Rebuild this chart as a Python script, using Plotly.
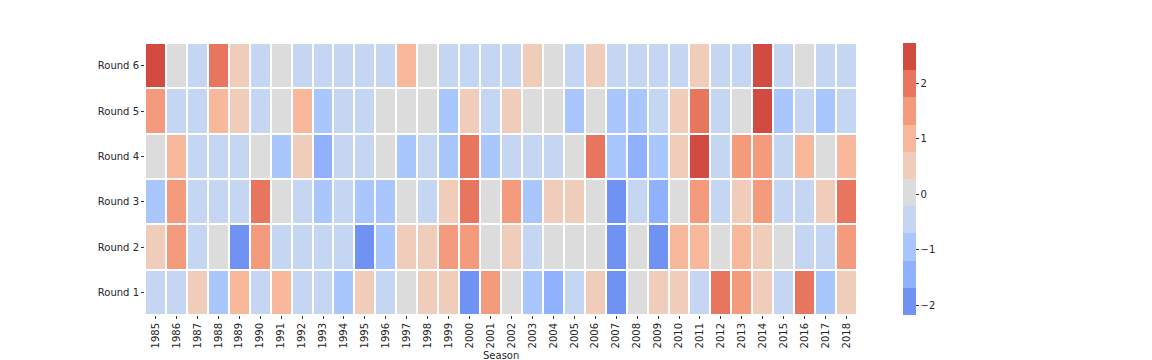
import plotly.graph_objects as go

seasons = [str(y) for y in range(1985, 2019)]
rounds = ["Round 1", "Round 2", "Round 3", "Round 4", "Round 5", "Round 6"]

# estimated values (read from binned colours)
round1 = [-0.46, -0.46, 0.52, -0.95, 1.01, -0.46, 1.01, -0.46, -0.46, -0.95, 0.52, -0.46, 0.03, 0.52, 0.52, -1.93, 1.50,
          0.03, -0.95, -1.44, -0.46, 0.52, -2.18, 0.03, 0.52, 0.52, -0.46, 1.99, 1.50, 0.52, -0.46, 1.99, -0.95, 0.52]
round2 = [0.52, 1.50, -0.46, 0.03, -1.93, 1.50, -0.46, -0.46, -0.46, -0.46, -1.93, -0.95, 0.52, 0.52, 1.50, 1.50, 0.03,
          0.52, -0.46, 0.03, 0.03, 0.03, -1.93, 0.03, -1.93, 1.01, 1.01, 0.03, 1.01, 0.52, 0.03, -0.46, -0.46, 1.50]
round3 = [-0.95, 1.50, -0.46, -0.46, -0.46, 1.99, 0.03, -0.46, -0.95, -0.46, -0.95, -0.95, 0.03, -0.46, 0.52, 1.99, 0.03,
          1.50, -0.95, 0.52, 0.52, 0.03, -1.93, -0.46, -1.44, 0.03, 1.50, -0.46, 0.52, 1.50, -0.46, -0.46, 0.52, 1.99]
round4 = [0.03, 1.01, -0.46, -0.46, -0.46, 0.03, -0.95, 0.52, -1.44, -0.46, -0.46, 0.03, -0.95, -0.46, -0.95, 1.99, -0.95,
          -0.46, -0.46, -0.46, 0.03, 1.99, -0.95, -1.44, -0.95, 0.52, 2.48, -0.46, 1.50, 1.50, -0.46, 1.01, 0.03, 1.01]
round5 = [1.50, -0.46, -0.46, 1.01, 0.52, -0.46, 0.03, 1.01, -0.95, -0.46, -0.46, 0.03, 0.03, 0.03, -0.95, 0.52, -0.46,
          0.52, 0.03, 0.03, -0.95, 0.03, -0.95, -0.95, -0.46, 0.52, 1.99, -0.46, 0.03, 2.48, -0.95, -0.46, -0.95, -0.46]
round6 = [2.48, 0.03, -0.46, 1.99, 0.52, -0.46, 0.03, -0.46, -0.46, -0.46, -0.46, -0.46, 1.01, 0.03, -0.46, -0.46, -0.46,
          -0.46, 0.52, 0.03, -0.46, 0.52, -0.46, -0.46, -0.46, -0.46, 0.52, -0.46, -0.46, 2.73, -0.46, 0.03, -0.46, -0.46]

palette = ["#7093f3", "#8fb1fe", "#aac7fd", "#c5d6f2", "#dddcdc",
           "#f0cdbb", "#f7b89c", "#f39b7c", "#e8765e", "#d24b40"]

zmin, zmax = -2.18, 2.73
n = len(palette)
colorscale = []
for i, c in enumerate(palette):
    colorscale.append([i / n, c])
    colorscale.append([(i + 1) / n, c])

z = [round1, round2, round3, round4, round5, round6]

fig = go.Figure(go.Heatmap(
    z=z, x=seasons, y=rounds,
    colorscale=colorscale, zmin=zmin, zmax=zmax,
    xgap=2, ygap=2,
    colorbar=dict(
        x=1.0646, xanchor="left", y=0, yanchor="bottom",
        len=1, lenmode="fraction", thickness=13, ypad=0, xpad=0,
        outlinewidth=0,
        tickvals=[-2, -1, 0, 1, 2],
        ticks="outside", ticklen=3, tickwidth=1, tickcolor="#333",
        tickfont=dict(family="DejaVu Sans", size=10, color="#262626"),
    ),
))

fig.add_annotation(
    text="Season", xref="paper", yref="paper", x=0.5, y=0,
    xanchor="center", yanchor="top", yshift=-33, showarrow=False,
    font=dict(family="DejaVu Sans", size=10, color="#262626"),
)

fig.update_layout(
    width=1152, height=360,
    margin=dict(l=137, r=303, t=35, b=53),
    plot_bgcolor="white", paper_bgcolor="white",
    font=dict(family="DejaVu Sans", size=10, color="#262626"),
    xaxis=dict(
        tickangle=-90, ticks="outside", ticklen=3, tickcolor="#333",
        showgrid=False, zeroline=False, showline=False, automargin=False,
        tickfont=dict(size=10),
    ),
    yaxis=dict(
        ticks="outside", ticklen=3, tickcolor="#333",
        showgrid=False, zeroline=False, showline=False, automargin=False,
        tickfont=dict(size=10),
    ),
)

fig.write_html("out.html")
